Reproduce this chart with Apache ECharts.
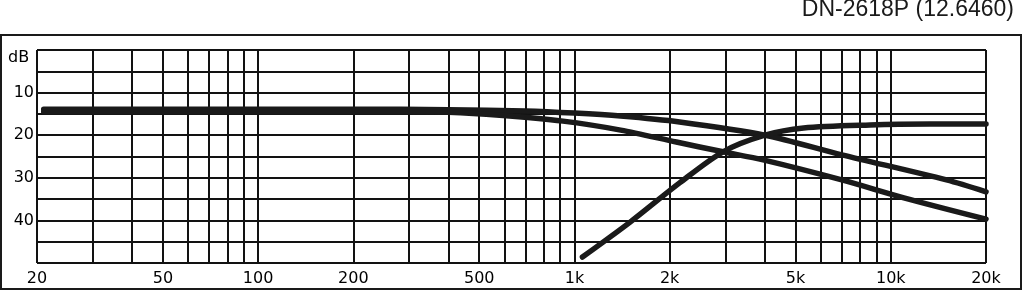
<!DOCTYPE html>
<html>
<head>
<meta charset="utf-8">
<script src="https://cdn.jsdelivr.net/npm/echarts@6/dist/echarts.min.js"></script>
<style>
html,body{margin:0;padding:0;background:#fff;}
#chart{width:1024px;height:292px;}
</style>
</head>
<body>
<div id="chart"></div>
<script>
// Frequencies (Hz) for vertical grid lines
const gridFreqs = [20,30,40,50,60,70,80,90,100,200,300,400,500,600,700,800,900,1000,2000,3000,4000,5000,6000,7000,8000,9000,10000,20000];
// Labelled frequencies
const labelFreqs = [20,50,100,200,500,1000,2000,5000,10000,20000];
// dB tick labels shown on the left
const dbLabels = [10,20,30,40];

// Curve A (upper at high frequencies): [Hz, dB]
const curveA = [[21,13.9],[50,13.9],[100,13.9],[200,13.9],[400,14.0],[700,14.3],[1000,14.8],[1400,15.5],[2150,16.9],[4000,20.0],[7000,24.6],[15000,30.5],[20000,33.3]];
// Curve B (lower at high frequencies)
const curveB = [[21,14.5],[100,14.5],[300,14.5],[400,14.6],[580,15.3],[920,16.7],[1400,18.8],[2100,21.6],[2950,23.9],[3950,25.8],[7000,30.5],[11000,34.7],[20000,39.7]];
// Curve C (rising high-pass)
const curveC = [[1060,48.6],[1500,40.4],[2150,31.2],[2950,23.9],[4000,20.0],[5300,18.3],[8600,17.6],[13300,17.4],[20000,17.4]];

const chart = echarts.init(document.getElementById('chart'), null, {renderer:'canvas'});
const lineCol = '#1a1a1a';
const gridCol = '#121212';
function mkSeries(d){
  return {type:'line', data:d, symbol:'none', smooth:0.3, silent:true,
    lineStyle:{color:lineCol, width:5.5, cap:'round', join:'round'}};
}
chart.setOption({
  animation:false,
  backgroundColor:'#fff',
  grid:{left:37, right:38, top:50, bottom:29},
  xAxis:{
    type:'log', logBase:10, min:20, max:20000,
    axisLine:{show:false},
    axisTick:{show:false, customValues:gridFreqs},
    axisLabel:{customValues:labelFreqs, margin:8, color:'#000', fontFamily:'DejaVu Sans', fontSize:16,
      formatter:v => v>=1000 ? (v/1000)+'k' : String(v)},
    splitLine:{show:true, lineStyle:{color:gridCol, width:2}}
  },
  yAxis:{
    type:'value', inverse:true, min:0, max:50, interval:5,
    axisLine:{show:false}, axisTick:{show:false},
    axisLabel:{margin:3, color:'#000', fontFamily:'DejaVu Sans', fontSize:16,
      formatter:v => dbLabels.indexOf(v)>=0 ? String(v) : ''},
    splitLine:{show:true, lineStyle:{color:gridCol, width:2}}
  },
  graphic:[
    {type:'rect', shape:{x:1, y:35, width:1020, height:254}, style:{fill:null, stroke:'#1a1a1a', lineWidth:2}, silent:true},
    {type:'text', x:1014, y:10, style:{text:'DN-2618P (12.6460)', fontFamily:'Liberation Sans', fontSize:23, fill:'#1a1a1a', align:'right', verticalAlign:'middle'}},
    {type:'text', x:8, y:58, style:{text:'dB', fontFamily:'DejaVu Sans', fontSize:16, fill:'#000', align:'left', verticalAlign:'middle'}}
  ],
  series:[mkSeries(curveA), mkSeries(curveB), mkSeries(curveC)]
});
</script>
</body>
</html>
